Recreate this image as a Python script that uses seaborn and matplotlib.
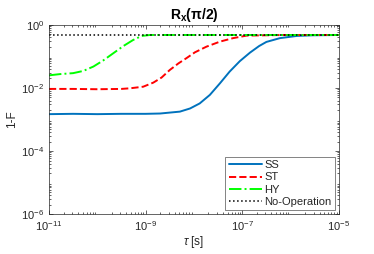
import numpy as np
import pandas as pd
import matplotlib
matplotlib.use('Agg')
import matplotlib.pyplot as plt
import seaborn as sns

# values (log10 of tau, log10 of 1-F)
ss_logtau = [-11, -10.5, -10, -9.5, -9, -8.7, -8.29, -8.08, -7.88, -7.67, -7.46, -7.26,
             -7.05, -6.84, -6.65, -6.5, -6.22, -5.87, -5.54, -5.0]
ss_logval = [-2.83, -2.82, -2.83, -2.82, -2.82, -2.81, -2.75, -2.65, -2.49, -2.22, -1.85, -1.48,
             -1.15, -0.88, -0.67, -0.54, -0.42, -0.35, -0.33, -0.32]

st_logtau = [-11, -10.5, -10, -9.5, -9.32, -9.05, -8.84, -8.67, -8.5, -8.32, -8.15, -7.98,
             -7.74, -7.46, -7.19, -6.91, -6.16, -5.5, -5.0]
st_logval = [-2.03, -2.03, -2.04, -2.03, -2.01, -1.96, -1.83, -1.67, -1.43, -1.22, -1.05, -0.87,
             -0.69, -0.53, -0.42, -0.34, -0.32, -0.32, -0.32]

hy_logtau = [-11, -10.77, -10.5, -10.29, -10.08, -9.88, -9.67, -9.46, -9.26, -9.08, -8.91,
             -8, -7, -6, -5]
hy_logval = [-1.60, -1.56, -1.53, -1.46, -1.32, -1.13, -0.90, -0.67, -0.48, -0.35, -0.32,
             -0.32, -0.32, -0.32, -0.32]

noop_logtau = [-11, -5]
noop_logval = [-0.32, -0.32]

sns.set_style('ticks')
plt.rcParams['font.family'] = ['Liberation Sans', 'DejaVu Sans']
plt.rcParams['mathtext.fontset'] = 'custom'
plt.rcParams['mathtext.rm'] = 'Liberation Sans'
plt.rcParams['mathtext.it'] = 'Liberation Sans:italic'
plt.rcParams['mathtext.bf'] = 'Liberation Sans:bold'
plt.rcParams['mathtext.default'] = 'regular'

fig = plt.figure(figsize=(3.74, 2.54), dpi=100)
ax = fig.add_axes([0.131, 0.157, 0.775, 0.745])

series = [
    ('SS', ss_logtau, ss_logval, '#0072BD', '-'),
    ('ST', st_logtau, st_logval, '#FF0000', '--'),
    ('HY', hy_logtau, hy_logval, '#00FF00', '-.'),
    ('No-Operation', noop_logtau, noop_logval, 'black', ':'),
]
for name, lt, lv, col, ls in series:
    df = pd.DataFrame({'tau': 10.0 ** np.array(lt), 'val': 10.0 ** np.array(lv)})
    sns.lineplot(data=df, x='tau', y='val', ax=ax, color=col, linestyle=ls,
                 linewidth=1.4 if name != 'No-Operation' else 1.1, label=name)

ax.set_xscale('log')
ax.set_yscale('log')
ax.set_xlim(1e-11, 1e-5)
ax.set_ylim(1e-6, 1e0)
ax.set_xticks([1e-11, 1e-9, 1e-7, 1e-5])
ax.set_yticks([1e-6, 1e-4, 1e-2, 1e0])
ax.xaxis.set_minor_locator(matplotlib.ticker.LogLocator(base=10, subs=np.arange(2, 10), numticks=20))
ax.yaxis.set_minor_locator(matplotlib.ticker.LogLocator(base=10, subs=np.arange(2, 10), numticks=20))
ax.tick_params(which='both', direction='in', top=True, right=True, colors='#262626',
               labelsize=8, width=0.5)
ax.tick_params(which='major', length=3)
ax.tick_params(which='minor', length=1.5)
for s in ax.spines.values():
    s.set_color('#262626')
    s.set_linewidth(0.5)

ax.set_title(r'$\mathbf{R_x(\pi/2)}$', fontsize=10, color='black', pad=4)
ax.set_xlabel(r'$\it{\tau}$ [s]', fontsize=8.5, color='#262626', labelpad=1)
ax.set_ylabel('1-F', fontsize=8.5, color='#262626', labelpad=2)

leg = ax.legend(loc='lower right', fontsize=8, frameon=True, fancybox=False,
                borderpad=0.3, labelspacing=0.2, handlelength=3.0, handletextpad=0.2,
                borderaxespad=0.35)
leg.get_frame().set_edgecolor('#262626')
leg.get_frame().set_linewidth(0.5)

fig.savefig('out.png', dpi=100)
